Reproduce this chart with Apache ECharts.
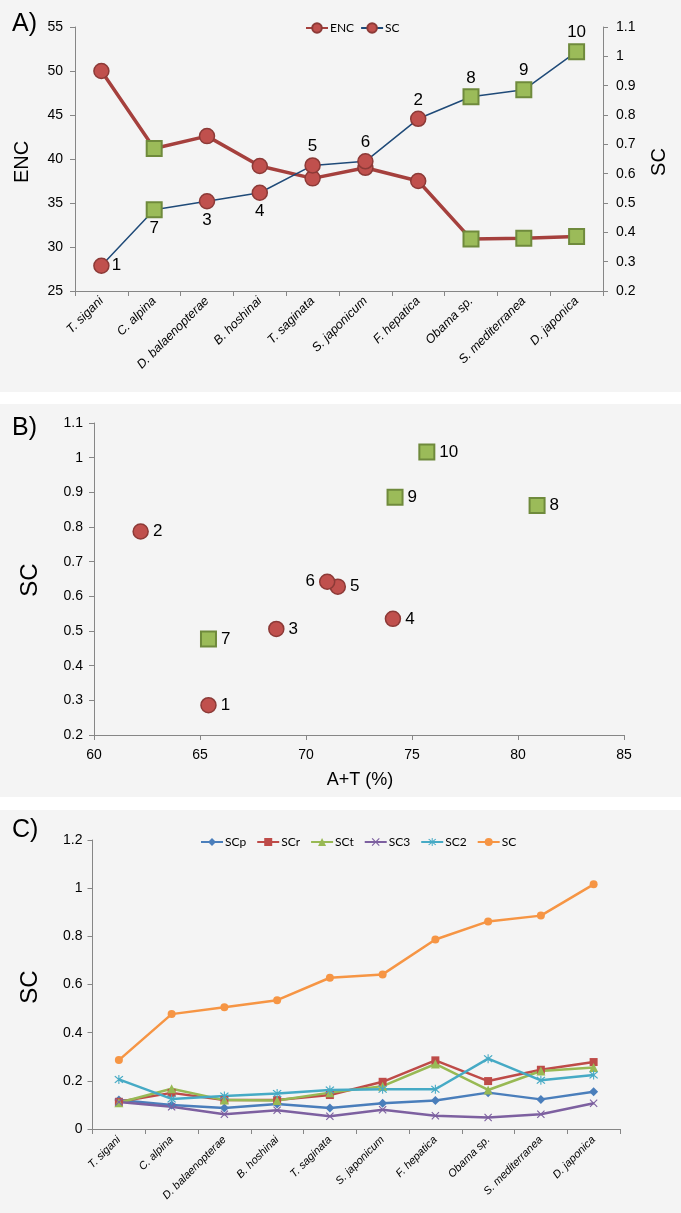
<!DOCTYPE html>
<html><head><meta charset="utf-8">
<script src="https://cdn.jsdelivr.net/npm/echarts@6/dist/echarts.min.js"></script>
<style>html,body{margin:0;padding:0;background:#fff}#c{width:681px;height:1213px}</style>
</head><body><div id="c"></div>
<script>
// ---------- data ----------
const species = ['T. sigani','C. alpina','D. balaenopterae','B. hoshinai','T. saginata','S. japonicum','F. hepatica','Obama sp.','S. mediterranea','D. japonica'];
const encValues = [50.0, 41.2, 42.6, 39.2, 37.8, 39.0, 37.5, 30.9, 31.0, 31.2];
const scValues  = [0.286, 0.477, 0.506, 0.535, 0.628, 0.642, 0.787, 0.862, 0.886, 1.016];
const atValues  = [65.4, 65.4, 68.6, 74.1, 71.5, 71.0, 62.2, 80.9, 74.2, 75.7];
const pointIds  = ['1','7','3','4','5','6','2','8','9','10'];
const groups    = ['red','green','red','red','red','red','red','green','green','green'];
const scpValues = [0.120, 0.100, 0.087, 0.104, 0.087, 0.107, 0.118, 0.151, 0.123, 0.155];
const scrValues = [0.113, 0.150, 0.120, 0.120, 0.141, 0.196, 0.285, 0.199, 0.246, 0.278];
const sctValues = [0.109, 0.167, 0.120, 0.118, 0.151, 0.178, 0.270, 0.162, 0.241, 0.255];
const sc3Values = [0.112, 0.092, 0.061, 0.078, 0.053, 0.080, 0.055, 0.048, 0.061, 0.107];
const sc2Values = [0.206, 0.125, 0.137, 0.147, 0.162, 0.165, 0.165, 0.292, 0.202, 0.224];
const encTicks = {min: 25, max: 55, step: 5};
const scTicksA = {min: 0.2, max: 1.1, step: 0.1};
const atTicks  = {min: 60, max: 85, step: 5};
const scTicksC = {min: 0, max: 1.2, step: 0.2};

// ---------- styles ----------
const RED = '#C0504D', RED_B = '#8C3A37', GREEN = '#9BBB59', GREEN_B = '#6F8A3C';
const AX = '#868686';
const FONT = '"Liberation Sans", Arial, sans-serif';
const LFONT = 'Lato, "Liberation Sans", sans-serif';
const fmt = v => String(+(+v).toFixed(2));

function markerStyle(g){
  return g === 'red'
    ? {symbol:'circle', symbolSize:15, itemStyle:{color:RED, borderColor:RED_B, borderWidth:1.5, opacity:1}}
    : {symbol:'rect', symbolSize:15, itemStyle:{color:GREEN, borderColor:GREEN_B, borderWidth:2, opacity:1}};
}
const posA = ['right','bottom','bottom','bottom','top','top','top','top','top','top'];
const posB = ['right','right','right','right','right','left','right','right','right','right'];

const axisCommon = {
  axisLine:{show:true, lineStyle:{color:AX, width:1}},
  axisTick:{show:true, length:5, lineStyle:{color:AX}},
  splitLine:{show:false},
};

const chart = echarts.init(document.getElementById('c'), null, {renderer:'canvas'});

const xsPath = 'path://M0,1L1,0L5,4L9,0L10,1L6,5L10,9L9,10L5,6L1,10L0,9L4,5Z';
const starPath = 'path://M0,1L1,0L5,4L9,0L10,1L6,5L10,9L9,10L5,6L1,10L0,9L4,5ZM4.4,-1L5.6,-1L5.6,11L4.4,11Z';

const option = {
  animation:false,
  backgroundColor:'#ffffff',
  graphic:[
    {type:'rect', shape:{x:0,y:0,width:681,height:392}, style:{fill:'#f4f4f4'}, z:-10},
    {type:'rect', shape:{x:0,y:404,width:681,height:393}, style:{fill:'#f4f4f4'}, z:-10},
    {type:'rect', shape:{x:0,y:810,width:681,height:403}, style:{fill:'#f4f4f4'}, z:-10},
    {type:'text', x:12, y:24, style:{text:'A)', font:'25px '+FONT, fill:'#000', textVerticalAlign:'middle'}},
    {type:'text', x:12, y:428, style:{text:'B)', font:'25px '+FONT, fill:'#000', textVerticalAlign:'middle'}},
    {type:'text', x:12, y:830, style:{text:'C)', font:'25px '+FONT, fill:'#000', textVerticalAlign:'middle'}},
    {type:'text', x:22, y:162, rotation:Math.PI/2, style:{text:'ENC', font:'20px '+FONT, fill:'#000', textAlign:'center', textVerticalAlign:'middle'}},
    {type:'text', x:659, y:162, rotation:Math.PI/2, style:{text:'SC', font:'20px '+FONT, fill:'#000', textAlign:'center', textVerticalAlign:'middle'}},
    {type:'text', x:30, y:580, rotation:Math.PI/2, style:{text:'SC', font:'24px '+FONT, fill:'#000', textAlign:'center', textVerticalAlign:'middle'}},
    {type:'text', x:360, y:780, style:{text:'A+T (%)', font:'18px '+FONT, fill:'#000', textAlign:'center', textVerticalAlign:'middle'}},
    {type:'text', x:30, y:987, rotation:Math.PI/2, style:{text:'SC', font:'24px '+FONT, fill:'#000', textAlign:'center', textVerticalAlign:'middle'}}
  ],
  legend:[
    {left:300, top:17, itemWidth:22, itemHeight:12, itemGap:6,
     textStyle:{fontFamily:LFONT, fontSize:12, color:'#000', padding:[0,0,0,-3]},
     data:['ENC','SC']},
    {left:195, top:831, itemWidth:22, itemHeight:10, itemGap:10,
     textStyle:{fontFamily:LFONT, fontSize:12, color:'#000', padding:[0,0,0,-3]},
     data:['SCp','SCr','SCt','SC3','SC2','SC ']}
  ],
  grid:[
    {left:75, top:27, width:528, height:264, outerBoundsMode:'none'},
    {left:94, top:423, width:530, height:312, outerBoundsMode:'none'},
    {left:92.5, top:840, width:527.5, height:289, outerBoundsMode:'none'}
  ],
  xAxis:[
    Object.assign({}, axisCommon, {gridIndex:0, type:'category', data:species, boundaryGap:true,
      axisTick:{show:true, length:5, alignWithLabel:false, interval:0, lineStyle:{color:AX}},
      axisLabel:{interval:0, rotate:45, margin:8, fontFamily:FONT, fontSize:12.5, fontStyle:'italic', color:'#000'}}),
    Object.assign({}, axisCommon, {gridIndex:1, type:'value', min:atTicks.min, max:atTicks.max, interval:atTicks.step,
      axisLabel:{margin:13, fontFamily:FONT, fontSize:14, color:'#000'}}),
    Object.assign({}, axisCommon, {gridIndex:2, type:'category', data:species, boundaryGap:true,
      axisTick:{show:true, length:5, alignWithLabel:false, interval:0, lineStyle:{color:AX}},
      axisLabel:{interval:0, rotate:45, margin:9, fontFamily:FONT, fontSize:11, fontStyle:'italic', color:'#000'}})
  ],
  yAxis:[
    Object.assign({}, axisCommon, {gridIndex:0, type:'value', position:'left', min:encTicks.min, max:encTicks.max, interval:encTicks.step,
      axisLabel:{margin:12, fontFamily:FONT, fontSize:14, color:'#000'}}),
    Object.assign({}, axisCommon, {gridIndex:0, type:'value', position:'right', min:scTicksA.min, max:scTicksA.max, interval:scTicksA.step,
      axisLabel:{margin:13, fontFamily:FONT, fontSize:14, color:'#000', formatter:fmt}}),
    Object.assign({}, axisCommon, {gridIndex:1, type:'value', min:scTicksA.min, max:scTicksA.max, interval:scTicksA.step,
      axisLabel:{margin:11, fontFamily:FONT, fontSize:14, color:'#000', formatter:fmt}}),
    Object.assign({}, axisCommon, {gridIndex:2, type:'value', min:scTicksC.min, max:scTicksC.max, interval:scTicksC.step,
      axisLabel:{margin:10, fontFamily:FONT, fontSize:14, color:'#000', formatter:fmt}})
  ],
  series:[
    {name:'ENC', type:'line', xAxisIndex:0, yAxisIndex:0, z:3,
     symbol:'circle', symbolSize:15,
     lineStyle:{color:'#A5403D', width:3.5},
     itemStyle:{color:RED, borderColor:RED_B, borderWidth:1.5},
     data: encValues.map((v,i)=>Object.assign({value:v}, markerStyle(groups[i])))},
    {name:'SC', type:'line', xAxisIndex:0, yAxisIndex:1, z:4,
     symbol:'circle', symbolSize:15,
     lineStyle:{color:'#1F4A78', width:1.5},
     itemStyle:{color:RED, borderColor:RED_B, borderWidth:1.5},
     data: scValues.map((v,i)=>Object.assign({value:v,
        label:{show:true, position:posA[i], distance:2, formatter:pointIds[i], fontFamily:FONT, fontSize:17, color:'#000'}},
        markerStyle(groups[i])))},
    {name:'B', type:'scatter', xAxisIndex:1, yAxisIndex:2,
     itemStyle:{opacity:1},
     data: atValues.map((v,i)=>Object.assign({value:[v, scValues[i]],
        label:{show:true, position:posB[i], distance:4, formatter:pointIds[i], fontFamily:FONT, fontSize:17, color:'#000'}},
        markerStyle(groups[i])))},
    {name:'SCp', type:'line', xAxisIndex:2, yAxisIndex:3, data:scpValues, symbol:'diamond', symbolSize:9,
     lineStyle:{color:'#4A7EBB', width:2.5}, itemStyle:{color:'#4A7EBB'}},
    {name:'SCr', type:'line', xAxisIndex:2, yAxisIndex:3, data:scrValues, symbol:'rect', symbolSize:8,
     lineStyle:{color:'#BE4B48', width:2.5}, itemStyle:{color:'#BE4B48'}},
    {name:'SCt', type:'line', xAxisIndex:2, yAxisIndex:3, data:sctValues, symbol:'triangle', symbolSize:9,
     lineStyle:{color:'#98B954', width:2.5}, itemStyle:{color:'#98B954'}},
    {name:'SC3', type:'line', xAxisIndex:2, yAxisIndex:3, data:sc3Values, symbol:xsPath, symbolSize:8,
     lineStyle:{color:'#7D60A0', width:2.5}, itemStyle:{color:'#7D60A0'}},
    {name:'SC2', type:'line', xAxisIndex:2, yAxisIndex:3, data:sc2Values, symbol:starPath, symbolSize:9,
     lineStyle:{color:'#46AAC5', width:2.5}, itemStyle:{color:'#46AAC5'}},
    {name:'SC ', type:'line', xAxisIndex:2, yAxisIndex:3, data:scValues, symbol:'circle', symbolSize:8,
     lineStyle:{color:'#F69544', width:2.5}, itemStyle:{color:'#F69544'}}
  ]
};
chart.setOption(option);
</script></body></html>
